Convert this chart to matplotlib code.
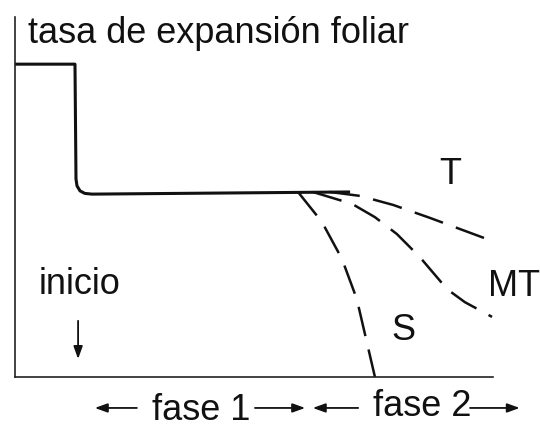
import matplotlib
matplotlib.use("Agg")
import matplotlib.pyplot as plt

plt.rcParams['font.family'] = ['Liberation Sans', 'DejaVu Sans']

# --- data (time units 0-100, rate units 0-100) ---
base_x = [0, 12.55, 12.76, 12.97, 13.6, 14.6, 16.1, 70.1]
base_y = [86.9, 86.9, 55.0, 53.1, 51.7, 51.0, 50.8, 51.4]

s_x = [59.2, 64.2, 68.4, 71.5, 73.6, 75.3]
s_y = [51.4, 43.1, 32.8, 21.7, 9.7, 0.0]

mt_x = [62.3, 70.5, 75.3, 79.9, 84.7, 90.4, 94.1, 99.8]
mt_y = [51.4, 48.1, 44.4, 39.7, 33.3, 24.4, 20.8, 16.7]

t_x = [65.9, 72.2, 79.1, 86.8, 93.7, 99.8]
t_y = [51.4, 50.3, 47.8, 44.2, 40.8, 37.8]

title = "tasa de expansión foliar"
curve_labels = ["T", "MT", "S"]
phase_labels = ["fase 1", "fase 2"]
start_label = "inicio"

W, H = 540, 427
fig = plt.figure(figsize=(W / 100, H / 100), dpi=100)
fig.patch.set_facecolor('white')
ax = fig.add_axes([15 / W, (H - 378) / H, (493 - 15) / W, (378 - 18) / H])
ax.set_xlim(0, 100)
ax.set_ylim(0, 100)
ax.set_xticks([])
ax.set_yticks([])
for side in ['top', 'right']:
    ax.spines[side].set_visible(False)
for side in ['left', 'bottom']:
    ax.spines[side].set_linewidth(1.2)
    ax.spines[side].set_color('#222222')

ink = '#111111'
ax.plot(base_x, base_y, color=ink, lw=2.2, solid_capstyle='butt', clip_on=False)
dash = (0, (12, 5.5))
for xs, ys in [(s_x, s_y), (mt_x, mt_y), (t_x, t_y)]:
    ax.plot(xs, ys, color=ink, lw=1.8, linestyle=dash, clip_on=False)

fs = 26
ax.text(2.7, 93.1, title, fontsize=fs, ha='left', va='baseline', color=ink, clip_on=False)
ax.text(91.0, 56.4, curve_labels[0], fontsize=fs, ha='center', va='center', color=ink)
ax.text(99.0, 25.3, curve_labels[1], fontsize=fs, ha='left', va='center', color=ink, clip_on=False)
ax.text(81.2, 13.3, curve_labels[2], fontsize=fs, ha='center', va='center', color=ink)
ax.text(13.6, 26.1, start_label, fontsize=fs, ha='center', va='center', color=ink)

arrow_kw = dict(arrowstyle='-|>,head_length=0.5,head_width=0.18', color=ink, lw=1.3,
                shrinkA=0, shrinkB=0, mutation_scale=15)
ax.annotate('', xy=(13.2, 5.0), xytext=(13.2, 15.6), arrowprops=arrow_kw, annotation_clip=False)

ax.text(39.0, -11.6, phase_labels[0], fontsize=fs, ha='center', va='baseline', color=ink, clip_on=False)
ax.text(85.3, -10.6, phase_labels[1], fontsize=fs, ha='center', va='baseline', color=ink, clip_on=False)
for x0, x1 in [(25.5, 16.7), (50.2, 60.7), (71.8, 62.3), (95.2, 105.6)]:
    ax.annotate('', xy=(x1, -8.6), xytext=(x0, -8.6), arrowprops=arrow_kw, annotation_clip=False)

fig.savefig('out.png', dpi=100, facecolor='white')
